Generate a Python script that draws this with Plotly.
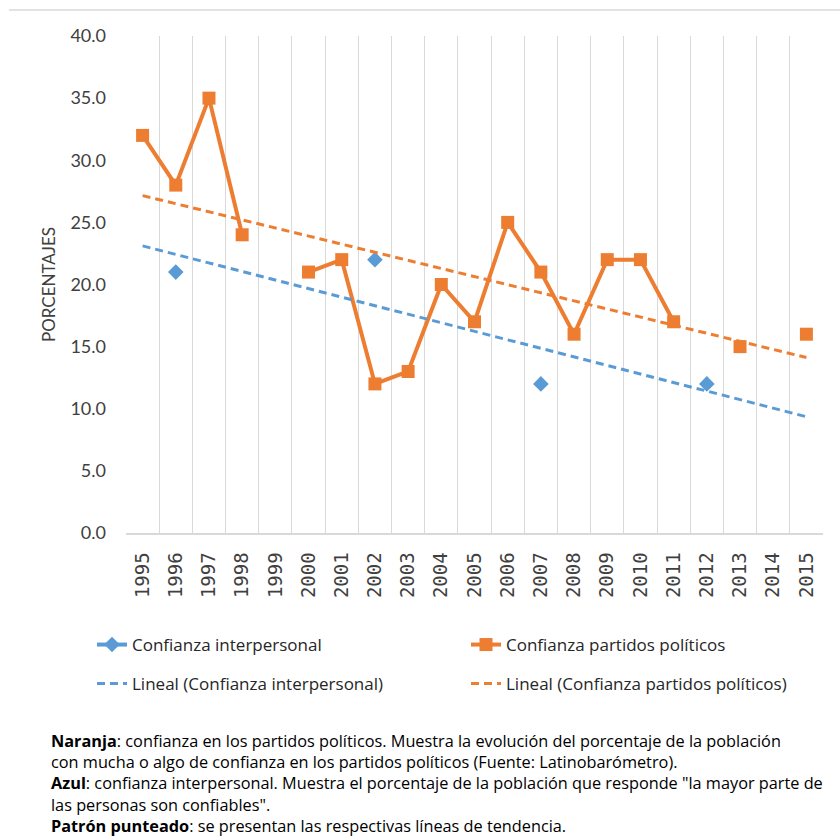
import numpy as np
import plotly.graph_objects as go

# ---------------- data ----------------
years = [str(y) for y in range(1995, 2016)]
confianza_partidos = [32, 28, 35, 24, None, 21, 22, 12, 13, 20, 17, 25, 21, 16, 22, 22, 17, None, 15, None, 16]
confianza_interpersonal = [None, 21, None, None, None, None, None, 22, None, None, None, None, 12, None, None, None, None, 12, None, None, None]
y_ticks = [0, 5, 10, 15, 20, 25, 30, 35, 40]

name_inter = "Confianza interpersonal"
name_part = "Confianza partidos políticos"
name_inter_tr = "Lineal (Confianza interpersonal)"
name_part_tr = "Lineal (Confianza partidos políticos)"

notes = [
    "<b>Naranja</b>: confianza en los partidos políticos. Muestra la evolución del porcentaje de la población",
    "con mucha o algo de confianza en los partidos políticos (Fuente: Latinobarómetro).",
    "<b>Azul</b>: confianza interpersonal. Muestra el porcentaje de la población que responde \"la mayor parte de",
    "las personas son confiables\".",
    "<b>Patrón punteado</b>: se presentan las respectivas líneas de tendencia.",
]

ORANGE = "#ED7D31"
BLUE = "#5B9BD5"
FONT = "Lato"
TEXT_FONT = "Open Sans"

# ---------------- layout geometry (pixels) ----------------
W, H = 840, 839
L, R, T, B = 126, 17, 36, 306
PW, PH = W - L - R, H - T - B


def px_x(x):
    return (x - L) / PW


def px_y(y):
    return (H - B - y) / PH


# ---------------- trend lines (least squares over category index) ----------------
def trend(values):
    idx = np.array([i for i, v in enumerate(values) if v is not None], dtype=float)
    vals = np.array([v for v in values if v is not None], dtype=float)
    m, c = np.polyfit(idx, vals, 1)
    allx = np.arange(len(values))
    return list(m * allx + c)


tr_inter = trend(confianza_interpersonal)
tr_part = trend(confianza_partidos)

fig = go.Figure()

fig.add_trace(go.Scatter(
    x=years, y=confianza_interpersonal, name=name_inter, mode="lines+markers",
    connectgaps=False, line=dict(color=BLUE, width=4),
    marker=dict(symbol="diamond", size=12, color=BLUE), legend="legend",
))
fig.add_trace(go.Scatter(
    x=years, y=confianza_partidos, name=name_part, mode="lines+markers",
    connectgaps=False, line=dict(color=ORANGE, width=4),
    marker=dict(symbol="square", size=13, color=ORANGE), legend="legend",
))
fig.add_trace(go.Scatter(
    x=years, y=tr_inter, name=name_inter_tr, mode="lines",
    line=dict(color=BLUE, width=3, dash="8px,5px"), legend="legend2",
))
fig.add_trace(go.Scatter(
    x=years, y=tr_part, name=name_part_tr, mode="lines",
    line=dict(color=ORANGE, width=3, dash="8px,5px"), legend="legend2",
))

legend_common = dict(
    orientation="h", xanchor="left", yanchor="middle",
    x=px_x(92), entrywidth=329, entrywidthmode="pixels",
    font=dict(family=TEXT_FONT, size=17, color="#262626"),
    bgcolor="rgba(0,0,0,0)", itemwidth=30,
)

fig.update_layout(
    width=W, height=H,
    margin=dict(l=L, r=R, t=T, b=B, autoexpand=False),
    paper_bgcolor="white", plot_bgcolor="white",
    showlegend=True,
    legend=dict(legend_common, y=px_y(645)),
    legend2=dict(legend_common, y=px_y(684)),
    font=dict(family=FONT, color="#404040"),
    xaxis=dict(
        type="category", categoryorder="array", categoryarray=years,
        range=[-0.5, len(years) - 0.5],
        tickson="boundaries", showgrid=True, gridcolor="#D9D9D9", gridwidth=1,
        showline=True, linecolor="#D9D9D9", linewidth=1.5, ticks="",
        tickangle=-90, tickfont=dict(family="DejaVu Sans Mono", size=19, color="#404040"),
        ticklabelstandoff=10, zeroline=False, fixedrange=True,
    ),
    yaxis=dict(
        range=[0, 40], tickvals=y_ticks, tickformat=".1f",
        showgrid=False, showline=False, zeroline=False, ticks="",
        tickfont=dict(family=FONT, size=18, color="#404040"),
        ticklabelstandoff=19,
        title=dict(text="PORCENTAJES", font=dict(family=FONT, size=17, color="#404040"), standoff=10),
        fixedrange=True,
    ),
)

# thin frame line at top of the image
fig.add_shape(type="line", xref="paper", yref="paper",
              x0=px_x(9), x1=px_x(840), y0=px_y(10), y1=px_y(10),
              line=dict(color="#D9D9D9", width=1.5))

# explanatory notes below the chart (one multi-line text block)
fig.add_annotation(text="<br>".join(notes), xref="paper", yref="paper",
                   x=px_x(49), y=px_y(783.5),
                   xanchor="left", yanchor="middle", showarrow=False, align="left",
                   font=dict(family=TEXT_FONT, size=16.3, color="#000000"))

fig.write_html("out.html")
